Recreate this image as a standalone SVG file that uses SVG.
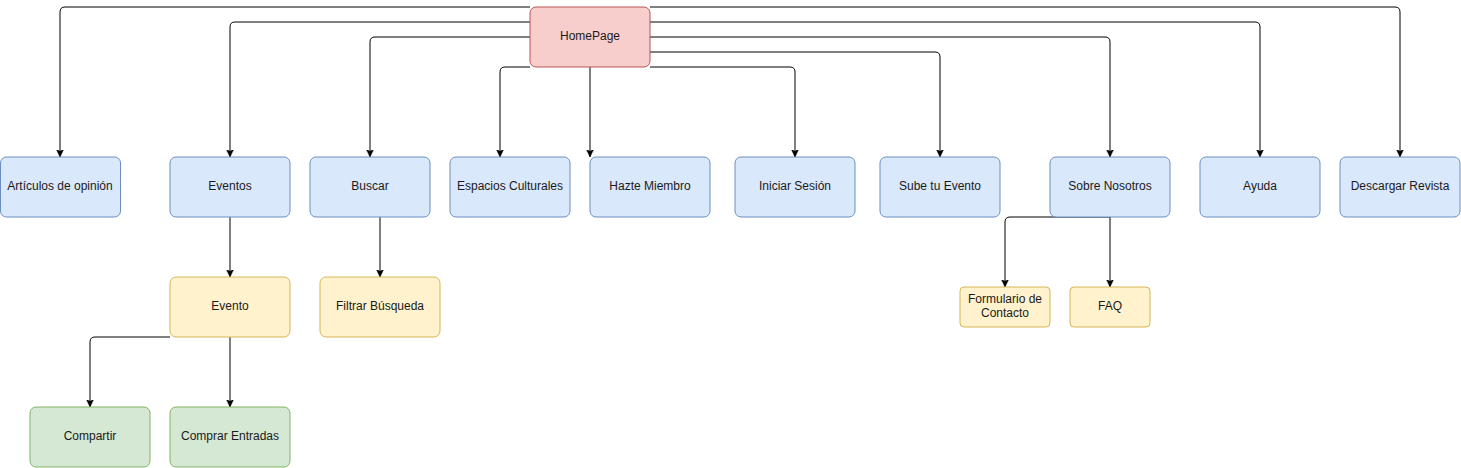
<svg xmlns="http://www.w3.org/2000/svg" width="1461" height="468" viewBox="0 0 1461 468">
<style>
.n rect{stroke-width:1}
.blue rect{fill:#dae8fc;stroke:#6c8ebf}
.red rect{fill:#f8cecc;stroke:#b85450}
.yel rect{fill:#fff2cc;stroke:#d6b656}
.grn rect{fill:#d5e8d4;stroke:#82b366}
text{font-family:"Liberation Sans",Arial,Helvetica,sans-serif;font-size:12px;fill:#1a1a1a;text-anchor:middle}
#edges path{fill:none;stroke:#000;stroke-width:1;marker-end:url(#arr)}
</style>
<defs>
<marker id="arr" viewBox="0 0 8 8" markerUnits="userSpaceOnUse" markerWidth="8" markerHeight="8" refX="7.5" refY="4" orient="auto">
<path d="M0,0.4 L7.5,4 L0,7.6 L1.8,4 Z" fill="#000" stroke="#000" stroke-width="0.5"/>
</marker>
</defs>
<rect width="1461" height="468" fill="#fff"/>
<g id="edges">
<path d="M530,7 L65,7 Q60,7 60,12 L60,157"/>
<path d="M530,22 L235,22 Q230,22 230,27 L230,157"/>
<path d="M530,37 L375,37 Q370,37 370,42 L370,157"/>
<path d="M530,67 L505,67 Q500,67 500,72 L500,157"/>
<path d="M590,67 L590,157"/>
<path d="M650,67 L790,67 Q795,67 795,72 L795,157"/>
<path d="M650,52 L935,52 Q940,52 940,57 L940,157"/>
<path d="M650,37 L1105,37 Q1110,37 1110,42 L1110,157"/>
<path d="M650,22 L1255,22 Q1260,22 1260,27 L1260,157"/>
<path d="M650,7 L1395,7 Q1400,7 1400,12 L1400,157"/>
<path d="M230,217 L230,277"/>
<path d="M380,217 L380,277"/>
<path d="M170,337 L95,337 Q90,337 90,342 L90,407"/>
<path d="M230,337 L230,407"/>
<path d="M1110,217 L1010,217 Q1005,217 1005,222 L1005,287"/>
<path d="M1110,217 L1110,287"/>
</g>
<g id="homepage" class="n red"><rect x="530" y="7" width="120" height="60" rx="6"/><text x="590" y="40">HomePage</text></g>
<g id="articulos" class="n blue"><rect x="0.5" y="157" width="120" height="60" rx="6"/><text x="60" y="190">Artículos de opinión</text></g>
<g id="eventos" class="n blue"><rect x="170" y="157" width="120" height="60" rx="6"/><text x="230" y="190">Eventos</text></g>
<g id="buscar" class="n blue"><rect x="310" y="157" width="120" height="60" rx="6"/><text x="370" y="190">Buscar</text></g>
<g id="espacios" class="n blue"><rect x="450" y="157" width="120" height="60" rx="6"/><text x="510" y="190">Espacios Culturales</text></g>
<g id="hazte" class="n blue"><rect x="590" y="157" width="120" height="60" rx="6"/><text x="650" y="190">Hazte Miembro</text></g>
<g id="iniciar" class="n blue"><rect x="735" y="157" width="120" height="60" rx="6"/><text x="795" y="190">Iniciar Sesión</text></g>
<g id="sube" class="n blue"><rect x="880" y="157" width="120" height="60" rx="6"/><text x="940" y="190">Sube tu Evento</text></g>
<g id="sobre" class="n blue"><rect x="1050" y="157" width="120" height="60" rx="6"/><text x="1110" y="190">Sobre Nosotros</text></g>
<g id="ayuda" class="n blue"><rect x="1200" y="157" width="120" height="60" rx="6"/><text x="1260" y="190">Ayuda</text></g>
<g id="descargar" class="n blue"><rect x="1340" y="157" width="120" height="60" rx="6"/><text x="1400" y="190">Descargar Revista</text></g>
<g id="evento" class="n yel"><rect x="170" y="277" width="120" height="60" rx="6"/><text x="230" y="310">Evento</text></g>
<g id="filtrar" class="n yel"><rect x="320" y="277" width="120" height="60" rx="6"/><text x="380" y="310">Filtrar Búsqueda</text></g>
<g id="compartir" class="n grn"><rect x="30" y="407" width="120" height="60" rx="6"/><text x="90" y="440">Compartir</text></g>
<g id="comprar" class="n grn"><rect x="170" y="407" width="120" height="60" rx="6"/><text x="230" y="440">Comprar Entradas</text></g>
<g id="formulario" class="n yel"><rect x="960" y="287" width="90" height="40" rx="4"/><text x="1005" y="303">Formulario de</text><text x="1005" y="317">Contacto</text></g>
<g id="faq" class="n yel"><rect x="1070" y="287" width="80" height="40" rx="4"/><text x="1110" y="310">FAQ</text></g>
</svg>
